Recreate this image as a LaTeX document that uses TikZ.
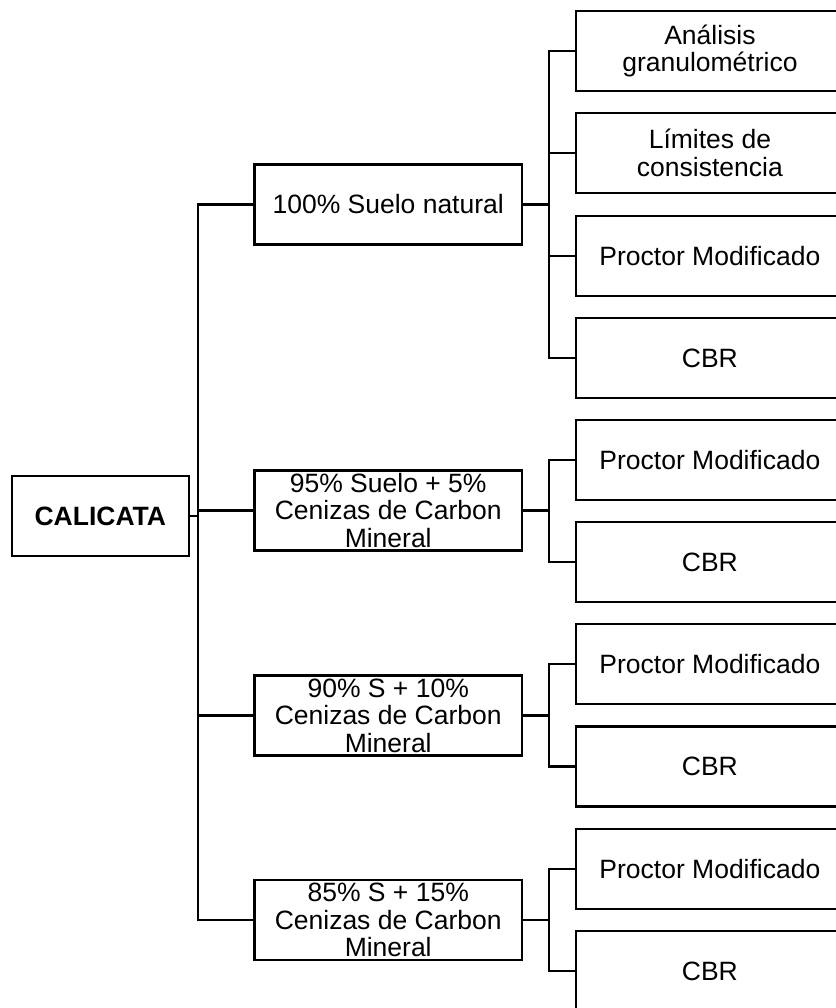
\documentclass[tikz,border=0pt]{standalone}
\usepackage{fontspec}
\setmainfont{Liberation Sans}

\begin{document}
\begin{tikzpicture}[x=1pt,y=-1pt,
    box/.style={draw,line width=2.2pt,minimum width=267.5pt,minimum height=80pt,
        inner xsep=2pt,inner ysep=-4pt,align=center,
        font=\fontsize{26.5}{27.5}\selectfont},
    link/.style={line width=2.2pt}]
    \useasboundingbox (0,0) rectangle (835,1008);

    % origen
    \node[box,minimum width=177pt,font=\fontsize{26.5}{27.5}\selectfont\bfseries] at (100.3,516) (calicata) {CALICATA};

    % mezclas
    \node[box] at (388.2,204.5) (s100) {100\% Suelo natural};
    \node[box] at (388.2,510.5) (s95) {95\% Suelo + 5\%\\Cenizas de Carbon\\Mineral};
    \node[box] at (388.2,715.5) (s90) {90\% S + 10\%\\Cenizas de Carbon\\Mineral};
    \node[box] at (388.2,920) (s85) {85\% S + 15\%\\Cenizas de Carbon\\Mineral};

    % ensayos
    \node[box] at (709.9,51) (ana) {Análisis\\granulométrico};
    \node[box] at (709.9,153) (lim) {Límites de\\consistencia};
    \node[box] at (709.9,256) (pro1) {Proctor Modificado};
    \node[box] at (709.9,358) (cbr1) {CBR};
    \node[box] at (709.9,460) (pro2) {Proctor Modificado};
    \node[box] at (709.9,562) (cbr2) {CBR};
    \node[box] at (709.9,664) (pro3) {Proctor Modificado};
    \node[box] at (709.9,766.5) (cbr3) {CBR};
    \node[box] at (709.9,869) (pro4) {Proctor Modificado};
    \node[box] at (709.9,971) (cbr4) {CBR};

    \coordinate (trunk) at (197.7,0);
    \coordinate (brk) at (549.3,0);

    % tronco
    \draw[link] (calicata.east) -- (calicata.east -| trunk);
    \draw[link] (s100.west) -- (s100.west -| trunk) -- (s85.west -| trunk) -- (s85.west);
    \draw[link] (s95.west) -- (s95.west -| trunk);
    \draw[link] (s90.west) -- (s90.west -| trunk);

    % ramas
    \draw[link] (s100.east) -- (s100.east -| brk);
    \draw[link] (ana.west) -- (ana.west -| brk) -- (cbr1.west -| brk) -- (cbr1.west);
    \draw[link] (lim.west) -- (lim.west -| brk);
    \draw[link] (pro1.west) -- (pro1.west -| brk);

    \draw[link] (s95.east) -- (s95.east -| brk);
    \draw[link] (pro2.west) -- (pro2.west -| brk) -- (cbr2.west -| brk) -- (cbr2.west);

    \draw[link] (s90.east) -- (s90.east -| brk);
    \draw[link] (pro3.west) -- (pro3.west -| brk) -- (cbr3.west -| brk) -- (cbr3.west);

    \draw[link] (s85.east) -- (s85.east -| brk);
    \draw[link] (pro4.west) -- (pro4.west -| brk) -- (cbr4.west -| brk) -- (cbr4.west);
\end{tikzpicture}
\end{document}
